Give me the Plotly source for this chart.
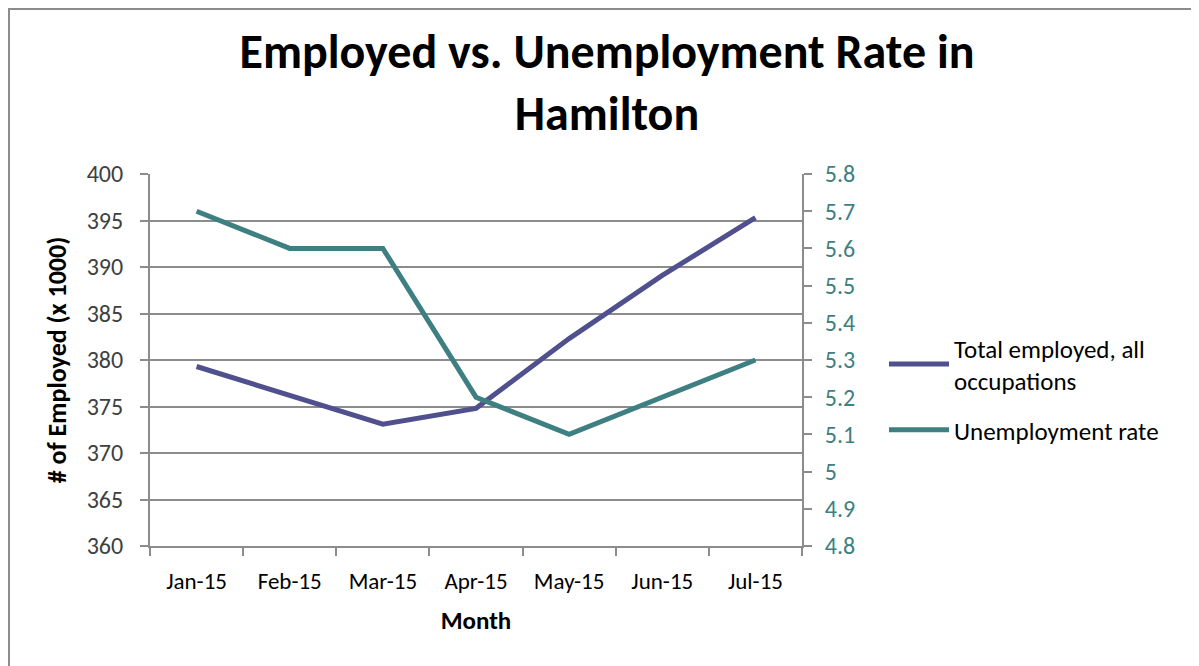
import plotly.graph_objects as go

months = ["Jan-15", "Feb-15", "Mar-15", "Apr-15", "May-15", "Jun-15", "Jul-15"]
employed = [379.3, 376.2, 373.1, 374.8, 382.3, 389.1, 395.3]
unemployment = [5.7, 5.6, 5.6, 5.2, 5.1, 5.2, 5.3]
left_ticks = [360, 365, 370, 375, 380, 385, 390, 395, 400]
right_ticks = [4.8, 4.9, 5.0, 5.1, 5.2, 5.3, 5.4, 5.5, 5.6, 5.7, 5.8]
right_ticktext = ["4.8", "4.9", "5", "5.1", "5.2", "5.3", "5.4", "5.5", "5.6", "5.7", "5.8"]

PURPLE = "#51508E"
TEAL = "#3E7F81"
GRID = "#8C8C8C"
FONT = "Carlito, Lato, sans-serif"

fig = go.Figure()
fig.add_trace(go.Scatter(x=months, y=employed, mode="lines",
                         name="Total employed, all<br>occupations", legendgroup="a",
                         line=dict(color=PURPLE, width=5), yaxis="y"))
fig.add_trace(go.Scatter(x=months, y=unemployment, mode="lines",
                         name="Unemployment rate", legendgroup="b",
                         line=dict(color=TEAL, width=5), yaxis="y2"))

OFF = 8  # page body margin
L, R, T, B = 150 - OFF, 802 - OFF, 174 - OFF, 546 - OFF
W, H = 1191, 658
pw, ph = R - L, B - T

def px(x):
    return (x - OFF - L) / pw

def py(y):
    return (B - (y - OFF)) / ph

fig.update_layout(
    width=W, height=H,
    margin=dict(l=L, r=W - R, t=T, b=H - B),
    paper_bgcolor="white", plot_bgcolor="white",
    font=dict(family=FONT, size=20, color="#000000"),
    title=dict(text="<b>Employed vs. Unemployment Rate in<br>Hamilton</b>",
               x=(607 - OFF) / W, xanchor="center", y=1 - (68 - OFF) / H, yanchor="middle",
               font=dict(family=FONT, size=48, color="#000000")),
    showlegend=True,
    legend=dict(x=px(884), xanchor="left", y=py(389), yanchor="middle",
                font=dict(family=FONT, size=25, color="#000000"),
                bgcolor="rgba(0,0,0,0)", tracegroupgap=14, itemwidth=60),
    xaxis=dict(type="category", showgrid=False, showline=True, linecolor=GRID, linewidth=2,
               ticks="outside", tickson="boundaries", ticklen=8, tickcolor=GRID, tickwidth=2,
               tickfont=dict(family=FONT, size=23, color="#000000"), ticklabelstandoff=13,
               title=dict(text="<b>Month</b>", font=dict(family=FONT, size=25, color="#000000"),
                          standoff=18),
               range=[-0.5, 6.5], zeroline=False),
    yaxis=dict(range=[360, 400], tickvals=left_ticks, showgrid=True, gridcolor=GRID, gridwidth=2,
               showline=True, linecolor=GRID, linewidth=2, ticks="outside", ticklen=8,
               tickcolor=GRID, tickwidth=2, zeroline=False, ticklabelstandoff=12,
               tickfont=dict(family=FONT, size=24, color="#404040"),
               title=dict(text="<b># of Employed (x 1000)</b>",
                          font=dict(family=FONT, size=26, color="#000000"), standoff=13)),
    yaxis2=dict(range=[4.8, 5.8], tickvals=right_ticks, ticktext=right_ticktext,
                overlaying="y", side="right", showgrid=False, showline=True, linecolor=GRID,
                linewidth=2, ticks="outside", ticklen=8, tickcolor=GRID, tickwidth=2,
                zeroline=False, ticklabelstandoff=8,
                tickfont=dict(family=FONT, size=24, color=TEAL)),
)

# outer chart border (top/left edges clipped to the figure's top-left corner)
fig.add_shape(type="rect", xref="paper", yref="paper",
              x0=px(9), x1=px(1215), y0=py(690), y1=py(9),
              line=dict(color="#8C8C8C", width=2), fillcolor="rgba(0,0,0,0)", layer="below")

fig.write_html("out.html")
